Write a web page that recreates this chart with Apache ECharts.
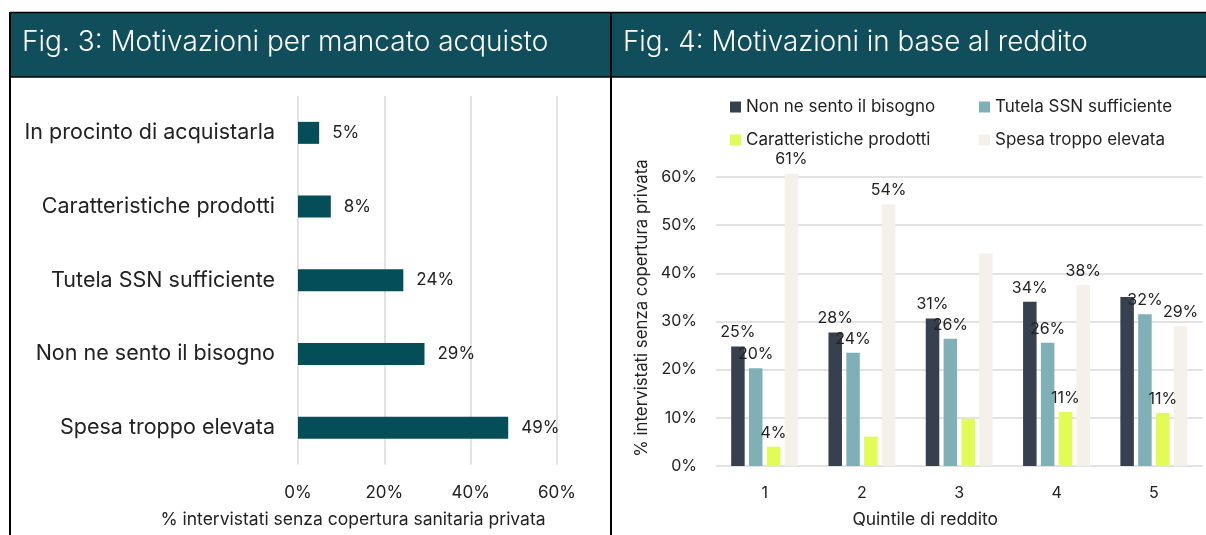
<!DOCTYPE html>
<html>
<head>
<meta charset="utf-8">
<script src="https://cdn.jsdelivr.net/npm/echarts@6/dist/echarts.min.js"></script>
<style>
html, body { margin: 0; padding: 0; background: #fff; }
#chart { width: 1206px; height: 535px; }
</style>
</head>
<body>
<div id="chart"></div>
<script>
// Fig. 3 - motivazioni per mancato acquisto
let reasons = ['In procinto di acquistarla', 'Caratteristiche prodotti', 'Tutela SSN sufficiente', 'Non ne sento il bisogno', 'Spesa troppo elevata'];
let reasonValues = [4.9, 7.6, 24.4, 29.3, 48.7];
let leftTicks = [0, 20, 40, 60];

// Fig. 4 - motivazioni in base al reddito
let quintiles = ['1', '2', '3', '4', '5'];
let nonBisogno = [24.8, 27.7, 30.6, 34.1, 35.1];
let tutelaSSN = [20.3, 23.5, 26.4, 25.6, 31.5];
let caratteristiche = [4.0, 6.1, 9.8, 11.2, 11.0];
let spesaElevata = [60.7, 54.3, 44.1, 37.6, 29.0];
let rightTicks = [0, 10, 20, 30, 40, 50, 60];
// indici dei punti senza etichetta nel grafico originale
let hiddenLabels = {
	'Non ne sento il bisogno': [4],
	'Tutela SSN sufficiente': [],
	'Caratteristiche prodotti': [1, 2],
	'Spesa troppo elevata': [2]
};

let font = 'Inter';
let textColor = '#222222';
let gridColor = '#d9d9d9';
let headerColor = '#0f4e5a';

let chart = echarts.init(document.getElementById('chart'));

function groupSeries(name, values, color) {
	return {
		name: name,
		type: 'bar',
		xAxisIndex: 1,
		yAxisIndex: 1,
		barWidth: 13.5,
		barGap: '32%',
		clip: false,
		itemStyle: { color: color },
		label: {
			show: true,
			position: 'top',
			distance: 6,
			fontFamily: font,
			fontSize: 16,
			color: textColor,
			formatter: p => Math.round(p.value) + '%'
		},
		data: values.map((v, i) => hiddenLabels[name].includes(i) ? { value: v, label: { show: false } } : v)
	};
}

let option = {
	animation: false,
	textStyle: { fontFamily: font },
	graphic: [
		{ type: 'rect', shape: { x: 10, y: 12, width: 1196, height: 65 }, style: { fill: headerColor } },
		{ type: 'line', shape: { x1: 10, y1: 12.5, x2: 1206, y2: 12.5 }, style: { stroke: '#000', lineWidth: 1.5 } },
		{ type: 'line', shape: { x1: 10, y1: 77, x2: 1206, y2: 77 }, style: { stroke: '#000', lineWidth: 1.5 } },
		{ type: 'line', shape: { x1: 10, y1: 12, x2: 10, y2: 535 }, style: { stroke: '#000', lineWidth: 2 } },
		{ type: 'line', shape: { x1: 611, y1: 12, x2: 611, y2: 535 }, style: { stroke: '#000', lineWidth: 2 } },
		{
			type: 'text', left: 22, top: 29,
			style: { text: 'Fig. 3: Motivazioni per mancato acquisto', fill: '#fff', fontFamily: font, fontWeight: 300, fontSize: 28 }
		},
		{
			type: 'text', left: 623, top: 29,
			style: { text: 'Fig. 4: Motivazioni in base al reddito', fill: '#fff', fontFamily: font, fontWeight: 300, fontSize: 27.8 }
		}
	],
	legend: [
		{
			data: ['Non ne sento il bisogno', 'Caratteristiche prodotti'],
			orient: 'vertical', left: 730, top: 97, padding: 0,
			itemWidth: 11, itemHeight: 11, itemGap: 13, icon: 'rect',
			textStyle: { fontFamily: font, fontSize: 17, color: textColor, lineHeight: 20 }
		},
		{
			data: ['Tutela SSN sufficiente', 'Spesa troppo elevata'],
			orient: 'vertical', left: 979, top: 97, padding: 0,
			itemWidth: 11, itemHeight: 11, itemGap: 13, icon: 'rect',
			textStyle: { fontFamily: font, fontSize: 17, color: textColor, lineHeight: 20 }
		}
	],
	grid: [
		{ left: 298, top: 96, width: 259, height: 368.5 },
		{ left: 716, top: 177, width: 486.5, height: 289 }
	],
	xAxis: [
		{
			type: 'value', gridIndex: 0,
			min: leftTicks[0], max: leftTicks[leftTicks.length - 1], interval: leftTicks[1] - leftTicks[0],
			axisLine: { show: false }, axisTick: { show: false },
			splitLine: { lineStyle: { color: gridColor, width: 1.5 } },
			axisLabel: { formatter: '{value}%', fontSize: 17, color: textColor, margin: 20 },
			name: '% intervistati senza copertura sanitaria privata',
			nameLocation: 'middle', nameGap: 46,
			nameTextStyle: { fontSize: 17.5, color: textColor, padding: [0, 149, 0, 0] }
		},
		{
			type: 'category', gridIndex: 1, data: quintiles,
			axisLine: { show: false }, axisTick: { show: false },
			axisLabel: { fontSize: 16, color: textColor, margin: 19 },
			name: 'Quintile di reddito',
			nameLocation: 'middle', nameGap: 45,
			nameTextStyle: { fontSize: 17.5, color: textColor, padding: [0, 68, 0, 0] }
		}
	],
	yAxis: [
		{
			type: 'category', gridIndex: 0, data: reasons, inverse: true,
			axisLine: { show: false }, axisTick: { show: false },
			axisLabel: { fontSize: 21.5, color: textColor, margin: 23 }
		},
		{
			type: 'value', gridIndex: 1,
			min: rightTicks[0], max: rightTicks[rightTicks.length - 1], interval: rightTicks[1] - rightTicks[0],
			axisLine: { show: false }, axisTick: { show: false },
			splitLine: { lineStyle: { color: gridColor, width: 1.5 } },
			axisLabel: { formatter: '{value}%', fontSize: 16, color: textColor, margin: 19 },
			name: '% intervistati senza copertura privata',
			nameLocation: 'middle', nameGap: 66,
			nameTextStyle: { fontSize: 16.8, color: textColor, padding: [0, 0, 0, 27] }
		}
	],
	series: [
		{
			name: 'Motivazioni',
			type: 'bar',
			xAxisIndex: 0,
			yAxisIndex: 0,
			barWidth: 22,
			itemStyle: { color: '#034e59' },
			label: {
				show: true,
				position: 'right',
				distance: 13,
				fontSize: 17,
				color: textColor,
				formatter: p => Math.round(p.value) + '%'
			},
			data: reasonValues
		},
		groupSeries('Non ne sento il bisogno', nonBisogno, '#37404f'),
		groupSeries('Tutela SSN sufficiente', tutelaSSN, '#7fb0b6'),
		groupSeries('Caratteristiche prodotti', caratteristiche, '#e2fb55'),
		groupSeries('Spesa troppo elevata', spesaElevata, '#f4f1ea')
	]
};

chart.setOption(option);
</script>
</body>
</html>
